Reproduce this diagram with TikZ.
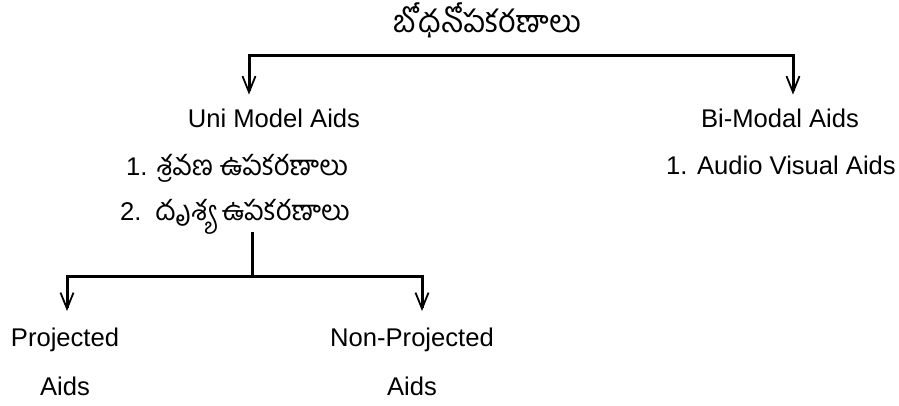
\documentclass[tikz,border=0pt]{standalone}
\usepackage{fontspec}
\setmainfont{Liberation Sans}
\newfontfamily\telugu[Script=Telugu, Scale=1.08]{Hind Guntur}
\newfontfamily\telhead[Script=Telugu, Scale=1.2]{Hind Guntur}
\usetikzlibrary{positioning,arrows.meta}

\begin{document}
\begin{tikzpicture}[x=0.5pt, y=0.5pt, font=\fontsize{12.8}{24.5}\selectfont,
    link/.style={line width=1.5pt, -{Straight Barb[length=8pt, width=6.5pt, line width=0.9pt]}},
    stem/.style={line width=1.5pt}] % one unit = one pixel of the target

  \useasboundingbox (0,0) rectangle (899,-406);

  % Heading and the two main kinds of aids
  \node (aids) at (487,-20) {\telhead బోధనోపకరణాలు};
  \node (uni) at (274,-118) {Uni Model Aids};
  \node (bi) at (780,-118) {Bi-Modal Aids};

  % What each kind holds
  \node (audio) at (237,-168) {1. {\telugu శ్రవణ ఉపకరణాలు}};
  \node (visual) at (235,-217) {2.\, {\telugu దృశ్య ఉపకరణాలు}};
  \node (av) at (781,-165) {1. Audio Visual Aids};

  % Two kinds of visual aids
  \node (proj) [align=center] at (65,-362) {Projected\\Aids};
  \node (nonproj) [align=center] at (412,-362) {Non-Projected\\Aids};

  % Branch points
  \coordinate (split1) at (520,-56);
  \coordinate (split2) at (252,-277);

  % Top bracket
  \draw[link] (split1) -| ([xshift=-12.5pt, yshift=3.5pt]uni.north);
  \draw[link] (split1) -| ([xshift=6.5pt, yshift=3.5pt]bi.north);

  % Lower bracket
  \draw[stem, shorten <=-5pt] (visual.south -| split2) -- (split2);
  \draw[link] (split2) -| ([xshift=1pt, yshift=5pt]proj.north);
  \draw[link] (split2) -| ([xshift=5pt, yshift=5pt]nonproj.north);

\end{tikzpicture}
\end{document}
